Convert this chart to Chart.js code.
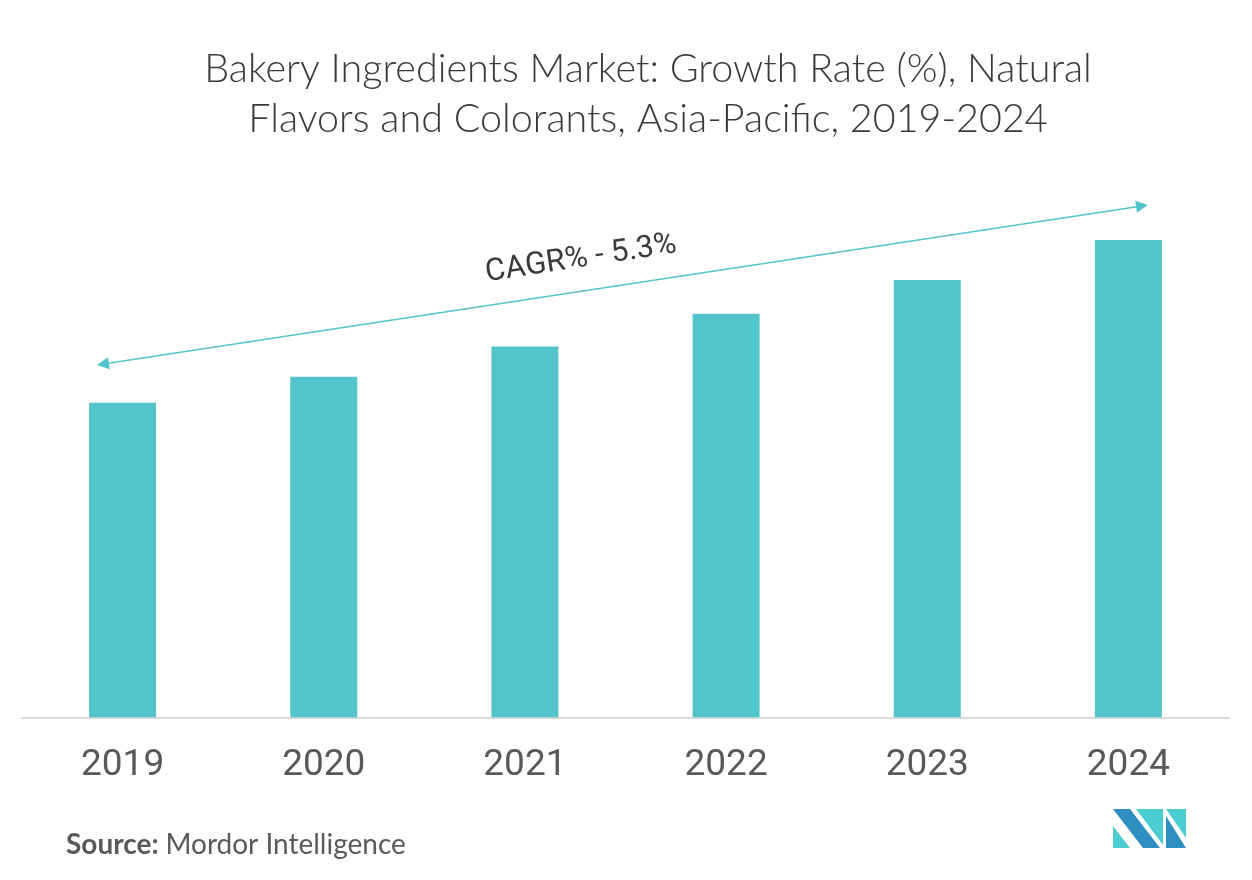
<!DOCTYPE html>
<html>
<head>
<meta charset="utf-8">
<script src="https://cdn.jsdelivr.net/npm/chart.js@4/dist/chart.umd.min.js"></script>
<style>
  html, body { margin: 0; padding: 0; background: #fff; }
  #wrap { width: 1252px; height: 880px; }
</style>
</head>
<body>
<div id="wrap"><canvas id="chart" width="1252" height="880"></canvas></div>
<script>
const years = ['2019', '2020', '2021', '2022', '2023', '2024'];
const growth = [5.73, 6.2, 6.75, 7.35, 7.96, 8.69];
const titleLines = ['Bakery Ingredients Market: Growth Rate (%), Natural', 'Flavors and Colorants, Asia-Pacific, 2019-2024'];
const cagrText = 'CAGR% - 5.3%';

const teal = '#52c4ca';

// title, cagr arrow, source and logo
const decor = {
  id: 'decor',
  afterDraw(chart) {
    const ctx = chart.ctx;
    ctx.save();
    ctx.fillStyle = '#3a3a3a';
    ctx.font = '300 39.5px Lato';
    ctx.textAlign = 'center';
    ctx.textBaseline = 'alphabetic';
    ctx.fillText(titleLines[0], 648, 82);
    ctx.fillText(titleLines[1], 648, 132);

    // arrow
    const x1 = 97, y1 = 365, x2 = 1148, y2 = 205;
    const ang = Math.atan2(y2 - y1, x2 - x1);
    ctx.strokeStyle = teal;
    ctx.fillStyle = teal;
    ctx.lineWidth = 1.5;
    ctx.beginPath();
    ctx.moveTo(x1 + 8 * Math.cos(ang), y1 + 8 * Math.sin(ang));
    ctx.lineTo(x2 - 8 * Math.cos(ang), y2 - 8 * Math.sin(ang));
    ctx.stroke();
    const head = (x, y, a) => {
      ctx.beginPath();
      ctx.moveTo(x, y);
      ctx.lineTo(x - 12 * Math.cos(a) + 6 * Math.sin(a), y - 12 * Math.sin(a) - 6 * Math.cos(a));
      ctx.lineTo(x - 12 * Math.cos(a) - 6 * Math.sin(a), y - 12 * Math.sin(a) + 6 * Math.cos(a));
      ctx.closePath();
      ctx.fill();
    };
    head(x2, y2, ang);
    head(x1, y1, ang + Math.PI);

    ctx.save();
    ctx.translate(581, 259);
    ctx.rotate(ang);
    ctx.fillStyle = '#3a3a3a';
    ctx.font = '31px Roboto';
    ctx.textAlign = 'center';
    ctx.textBaseline = 'middle';
    ctx.fillText(cagrText, 0, 0);
    ctx.restore();

    // source
    ctx.textAlign = 'left';
    ctx.textBaseline = 'alphabetic';
    ctx.fillStyle = '#5a5a5a';
    ctx.font = 'bold 28px Lato';
    ctx.fillText('Source:', 66, 854);
    const w = ctx.measureText('Source: ').width;
    ctx.font = '28px Lato';
    ctx.fillText('Mordor Intelligence', 66 + w, 854);

    // logo
    const poly = (pts, c) => {
      ctx.fillStyle = c;
      ctx.beginPath();
      ctx.moveTo(pts[0][0], pts[0][1]);
      pts.slice(1).forEach(p => ctx.lineTo(p[0], p[1]));
      ctx.closePath();
      ctx.fill();
    };
    const dark = '#2e8fc0', light = '#4ccdd2';
    poly([[1113, 809], [1130, 809], [1160, 848], [1143, 848]], dark);
    poly([[1113, 826], [1113, 848], [1130, 848]], light);
    poly([[1136, 809], [1163, 809], [1163, 845]], light);
    poly([[1166, 809], [1186, 809], [1186, 838]], light);
    poly([[1166, 816], [1166, 848], [1186, 848]], dark);
    ctx.restore();
  }
};

new Chart(document.getElementById('chart'), {
  type: 'bar',
  data: {
    labels: years,
    datasets: [{
      data: growth,
      backgroundColor: teal,
      categoryPercentage: 1,
      barPercentage: 0.333
    }]
  },
  options: {
    responsive: false,
    animation: false,
    layout: { padding: { top: 168, left: 22, right: 23, bottom: 66 } },
    plugins: { legend: { display: false }, tooltip: { enabled: false } },
    scales: {
      y: { display: false, min: 0, max: 10 },
      x: {
        grid: { display: false, drawTicks: false },
        border: { display: true, color: '#d9d9d9', width: 2 },
        ticks: {
          color: '#595959',
          padding: 26,
          font: { family: 'Roboto', size: 37 }
        }
      }
    }
  },
  plugins: [decor]
});
</script>
</body>
</html>
